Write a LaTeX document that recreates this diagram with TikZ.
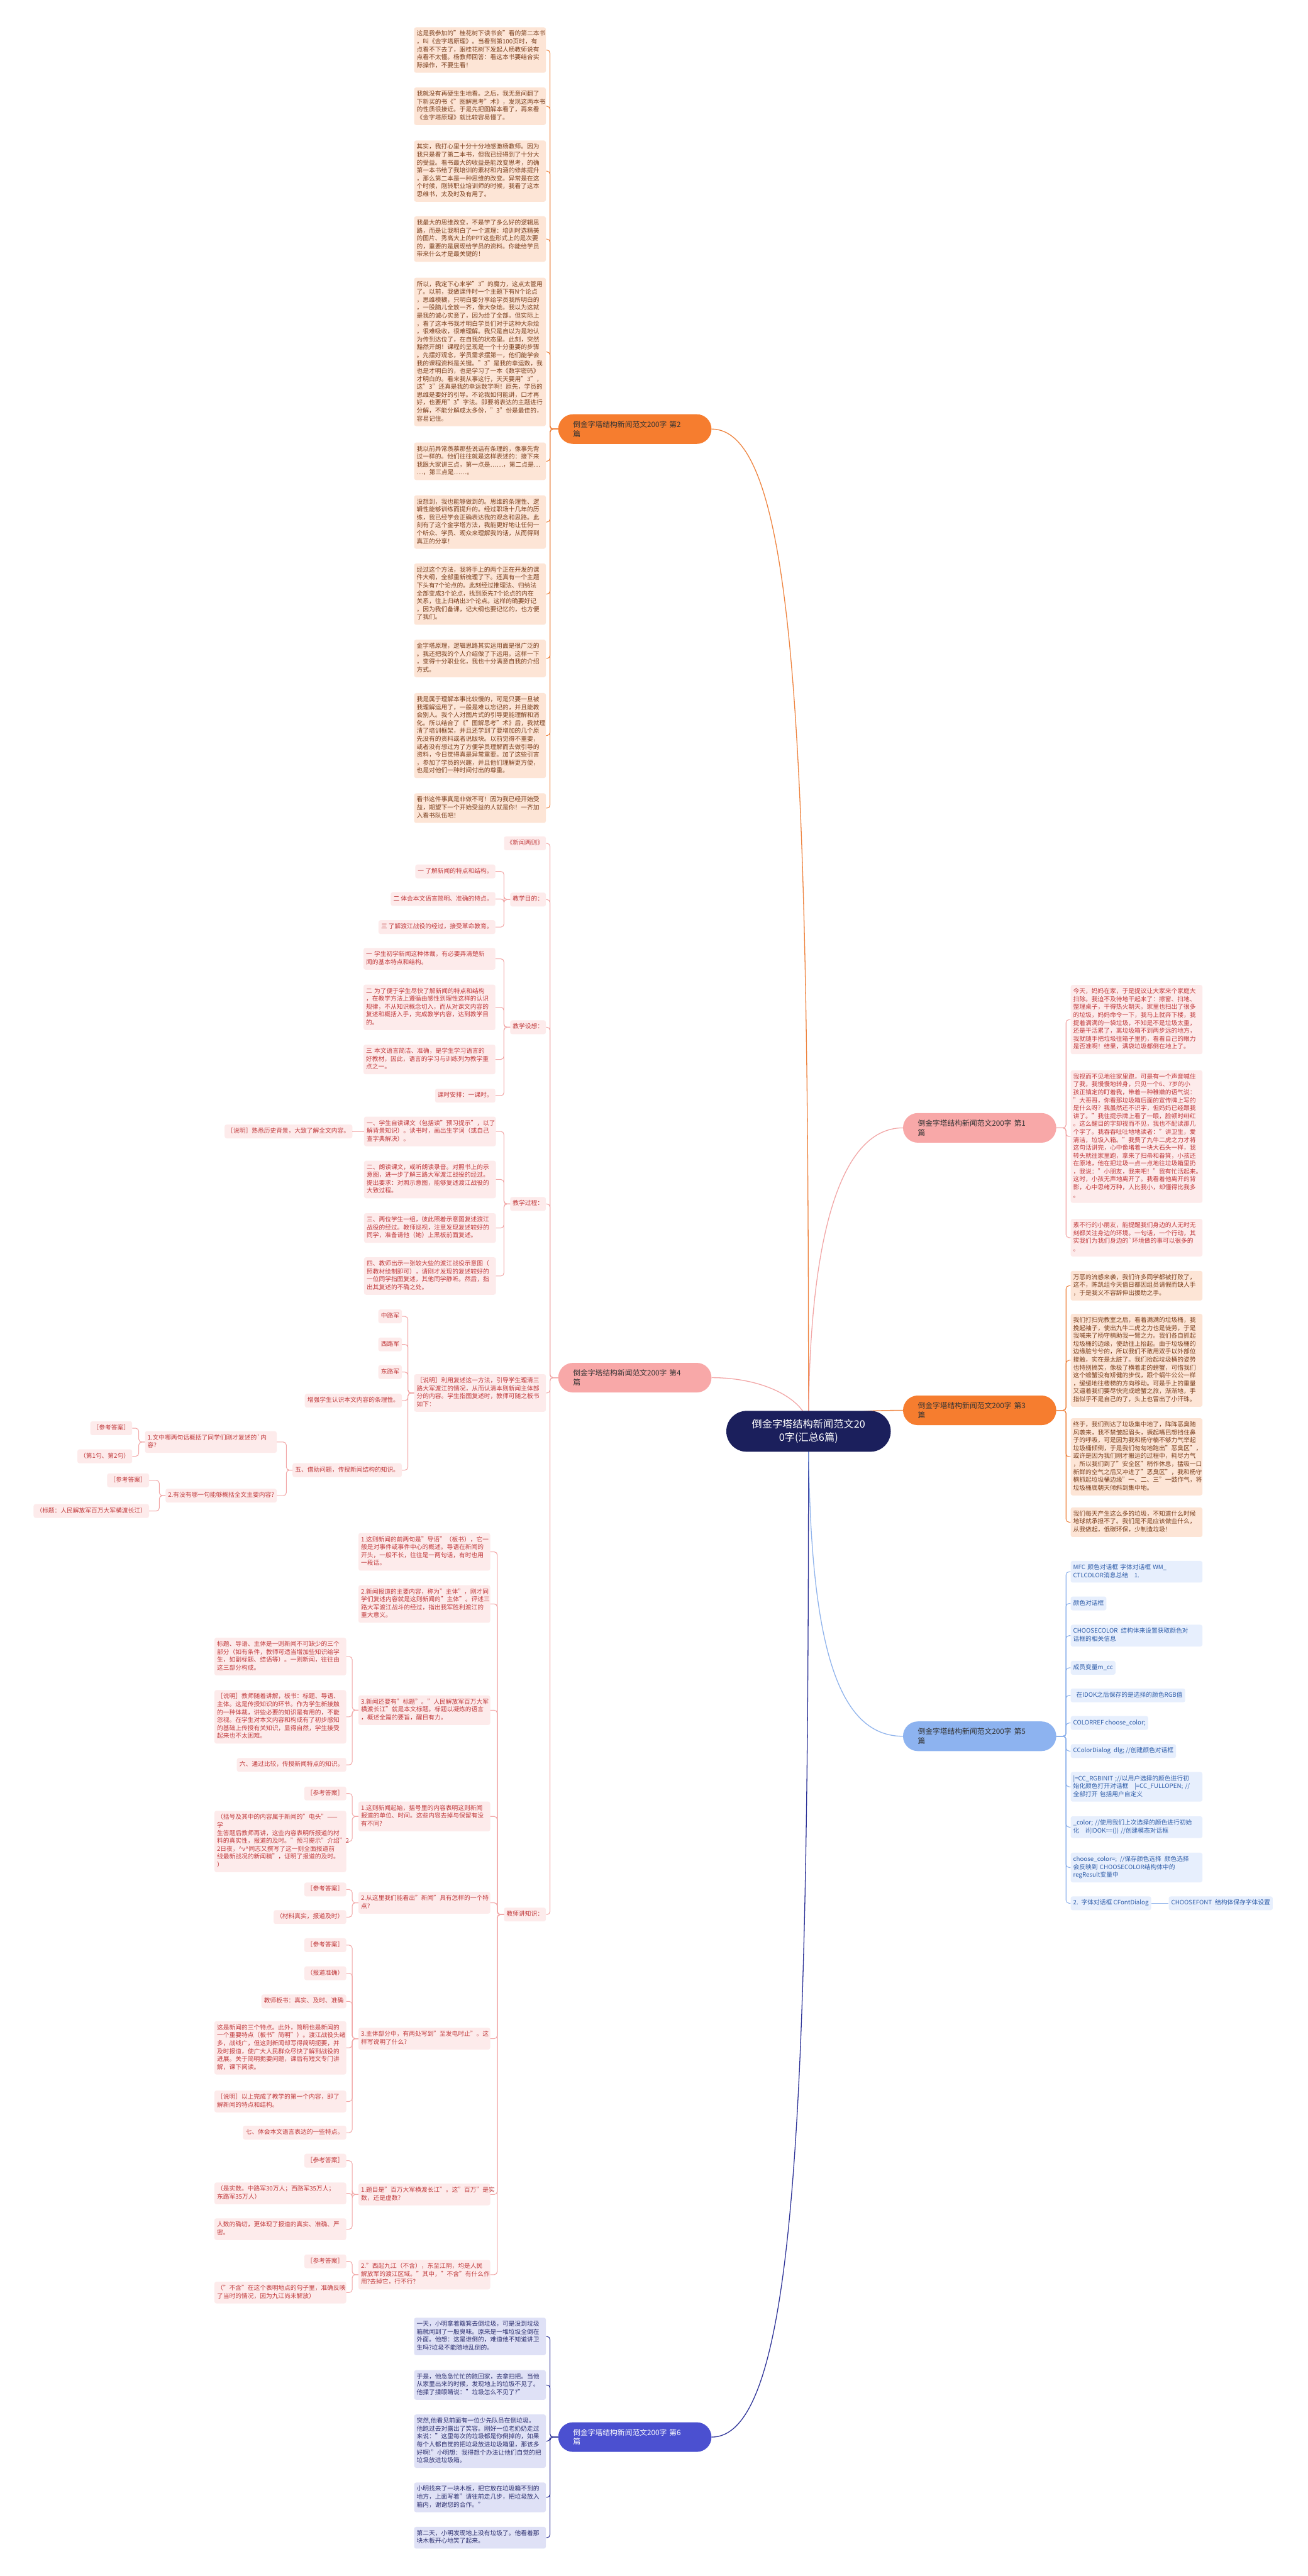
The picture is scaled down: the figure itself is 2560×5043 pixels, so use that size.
\documentclass[tikz,border=0pt]{standalone}
\usepackage{fontspec}
\setmainfont{Noto Sans CJK SC}

\definecolor{rootC}{HTML}{1B1F5C}
\definecolor{topicT}{HTML}{333333}
\definecolor{oraN}{HTML}{F67D2F}
\definecolor{oraL}{HTML}{EE8440}
\definecolor{oraF}{HTML}{FDE5D6}
\definecolor{oraT}{HTML}{7A3F1D}
\definecolor{pinN}{HTML}{F8A8A8}
\definecolor{pinL}{HTML}{F2A6A6}
\definecolor{pinF}{HTML}{FDEBEB}
\definecolor{pinT}{HTML}{C0393B}
\definecolor{bluN}{HTML}{8DB3F0}
\definecolor{bluL}{HTML}{8FB3EC}
\definecolor{bluF}{HTML}{E7EFFD}
\definecolor{bluT}{HTML}{2F5DA8}
\definecolor{indN}{HTML}{4B50D0}
\definecolor{indL}{HTML}{2E3398}
\definecolor{indF}{HTML}{DFE1F6}
\definecolor{indT}{HTML}{2B2E6E}

\begin{document}
\begin{tikzpicture}[x=1pt, y=-1pt,
    leaf/.style={rectangle, rounded corners=4pt, inner xsep=5pt, inner ysep=5.75pt,
      font=\fontsize{12}{15.5}\selectfont,
      execute at begin node=\strut, execute at end node=\strut},
    wide/.style={text width=248pt, align=left},
    topic/.style={rectangle, rounded corners=29pt, minimum height=58pt, text width=242pt,
      inner xsep=29pt, inner ysep=11pt, align=left, text=topicT,
      font=\fontsize{14.5}{18}\selectfont},
    rootnode/.style={rectangle, rounded corners=40pt, fill=rootC, text=white,
      minimum width=322pt, minimum height=80pt, align=center,
      font=\fontsize{20}{26}\selectfont},
    ora/.style={fill=oraF, text=oraT},
    pin/.style={fill=pinF, text=pinT},
    blu/.style={fill=bluF, text=bluT},
    ind/.style={fill=indF, text=indT},
    lnOra/.style={draw=oraL, line width=1.3pt, rounded corners=6pt},
    lnPin/.style={draw=pinL, line width=1.3pt, rounded corners=6pt},
    lnBlu/.style={draw=bluL, line width=1.3pt, rounded corners=6pt},
    lnInd/.style={draw=indL, line width=1.3pt, rounded corners=6pt},
    trunk/.style={line width=1.6pt}
]
\useasboundingbox (0,0) rectangle (2560,5043);
\fill[white] (0,0) rectangle (2560,5043);

% branch nodes
\node[topic, fill=oraN] (b2) at (1243,840) {倒金字塔结构新闻范文200字 第2\\篇};
\node[topic, fill=pinN] (b4) at (1243,2697) {倒金字塔结构新闻范文200字 第4\\篇};
\node[topic, fill=indN, text=white] (b6) at (1243,4771) {倒金字塔结构新闻范文200字 第6\\篇};
\node[topic, fill=pinN] (b1) at (1918,2208) {倒金字塔结构新闻范文200字 第1\\篇};
\node[topic, fill=oraN] (b3) at (1918,2761) {倒金字塔结构新闻范文200字 第3\\篇};
\node[topic, fill=bluN] (b5) at (1918,3399) {倒金字塔结构新闻范文200字 第5\\篇};

% 第2篇
\node[leaf, ora, wide, anchor=east] (a1) at (1069,98) {这是我参加的"桂花树下读书会"看的第二本书\\，叫《金字塔原理》。当看到第100页时，有\\点看不下去了，跟桂花树下发起人杨教师说有\\点看不太懂。杨教师回答：看这本书要结合实\\际操作，不要生看！};
\node[leaf, ora, wide, anchor=east] (a2) at (1069,208) {我就没有再硬生生地看。之后，我无意间翻了\\下新买的书《"图解思考"术》，发现这两本书\\的性质很接近。于是先把图解本看了，再来看\\《金字塔原理》就比较容易懂了。};
\node[leaf, ora, wide, anchor=east] (a3) at (1069,335) {其实，我打心里十分十分地感激杨教师。因为\\我只是看了第二本书，但我已经得到了十分大\\的受益。看书最大的收益是能改变思考，的确\\第一本书给了我培训的素材和内涵的修炼提升\\，那么第二本是一种思维的改变。异常是在这\\个时候，刚转职业培训师的时候，我看了这本\\思维书，太及时及有用了。};
\node[leaf, ora, wide, anchor=east] (a4) at (1069,468) {我最大的思维改变，不是学了多么好的逻辑思\\路，而是让我明白了一个道理：培训时选精美\\的图片、秀高大上的PPT这些形式上的是次要\\的，重要的是展现给学员的资料。你能给学员\\带来什么才是最关键的！};
\node[leaf, ora, wide, anchor=east] (a5) at (1069,689) {所以，我定下心来学"3"的魔力，这点太管用\\了。以前，我做课件时一个主题下有N个论点\\，思维模糊，只明白要分享给学员我所明白的\\，一股脑儿全放一齐，像大杂烩。我以为这就\\是我的诚心实意了，因为给了全部。但实际上\\，看了这本书我才明白学员们对于这种大杂烩\\，很难吸收，很难理解。我只是自以为是地认\\为传到达位了，在自我的状态里。此刻，突然\\豁然开朗！课程的呈现是一个十分重要的步骤\\。先摆好观念，学员需求摆第一，他们能学会\\我的课程资料是关键。"3"是我的幸运数，我\\也是才明白的，也是学习了一本《数字密码》\\才明白的。看来我从事这行，天天要用"3"，\\这"3"还真是我的幸运数字啊！原先，学员的\\思维是要好的引导。不论我如何能讲，口才再\\好，也要用"3"字法。即要将表达的主题进行\\分解，不能分解成太多份，"3"份是最佳的，\\容易记住。};
\node[leaf, ora, wide, anchor=east] (a6) at (1069,903) {我以前异常羡慕那些说话有条理的，像事先背\\过一样的。他们往往就是这样表述的：接下来\\我跟大家讲三点，第一点是……，第二点是…\\…，第三点是……。};
\node[leaf, ora, wide, anchor=east] (a7) at (1069,1022) {没想到，我也能够做到的。思维的条理性、逻\\辑性能够训练而提升的。经过职场十几年的历\\练，我已经学会正确表达我的观念和思路。此\\刻有了这个金字塔方法，我能更好地让任何一\\个听众、学员、观众来理解我的话，从而得到\\真正的分享！};
\node[leaf, ora, wide, anchor=east] (a8) at (1069,1163) {经过这个方法，我将手上的两个正在开发的课\\件大纲，全部重新梳理了下。还真有一个主题\\下头有7个论点的。此刻经过推理法、归纳法\\全部变成3个论点，找到原先7个论点的内在\\关系，往上归纳出3个论点。这样的确要好记\\，因为我们备课，记大纲也要记忆的，也方便\\了我们。};
\node[leaf, ora, wide, anchor=east] (a9) at (1069,1289) {金字塔原理，逻辑思路其实运用面是很广泛的\\。我还把我的个人介绍做了下运用。这样一下\\，变得十分职业化，我也十分满意自我的介绍\\方式。};
\node[leaf, ora, wide, anchor=east] (a10) at (1069,1440) {我是属于理解本事比较慢的，可是只要一旦被\\我理解运用了，一般是难以忘记的，并且能教\\会别人。我个人对图片式的引导更能理解和消\\化。所以结合了《"图解思考"术》后，我就理\\清了培训框架，并且还学到了要增加的几个原\\先没有的资料或者说版块。以前觉得不重要，\\或者没有想过为了方便学员理解而去做引导的\\资料，今日觉得真是异常重要。加了这些引言\\，参加了学员的兴趣，并且他们理解更方便，\\也是对他们一种时间付出的尊重。};
\node[leaf, ora, wide, anchor=east] (a11) at (1069,1582) {看书这件事真是非做不可！因为我已经开始受\\益，期望下一个开始受益的人就是你！一齐加\\入看书队伍吧！};
\foreach \i in {1,...,11} \draw[lnOra] (b2.west) -- ++(-16,0) |- (a\i.east);

% 第6篇
\node[leaf, ind, wide, anchor=east] (s1) at (1069,4574) {一天，小明拿着簸箕去倒垃圾，可是没到垃圾\\箱就闻到了一股臭味。原来是一堆垃圾全倒在\\外面。他想：这是谁倒的，难道他不知道讲卫\\生吗?垃圾不能随地乱倒的。};
\node[leaf, ind, wide, anchor=east] (s2) at (1069,4669) {于是，他急急忙忙的跑回家，去拿扫把。当他\\从家里出来的时候，发现地上的垃圾不见了。\\他揉了揉眼睛说："垃圾怎么不见了?"};
\node[leaf, ind, wide, anchor=east] (s3) at (1069,4779) {突然,他看见前面有一位少先队员在倒垃圾。\\他跑过去对露出了笑容。刚好一位老奶奶走过\\来说："这里每次的垃圾都是你倒掉的，如果\\每个人都自觉的把垃圾放进垃圾箱里，那该多\\好啊!"小明想：我得想个办法让他们自觉的把\\垃圾放进垃圾箱。};
\node[leaf, ind, wide, anchor=east] (s4) at (1069,4889) {小明找来了一块木板，把它放在垃圾箱不到的\\地方，上面写着"请往前走几步，把垃圾放入\\箱内，谢谢您的合作。"};
\node[leaf, ind, wide, anchor=east] (s5) at (1069,4968) {第二天，小明发现地上没有垃圾了。他看着那\\块木板开心地笑了起来。};
\foreach \i in {1,...,5} \draw[lnInd] (b6.west) -- ++(-16,0) |- (s\i.east);

% 第1篇
\node[leaf, pin, wide, anchor=west] (r1) at (2096,1996) {今天，妈妈在家，于是提议让大家来个家庭大\\扫除。我迫不及待地干起来了：擦窗、扫地、\\整理桌子，干得热火朝天。家里也扫出了很多\\的垃圾，妈妈命令一下，我马上就奔下楼，我\\提着满满的一袋垃圾，不知是不是垃圾太重，\\还是干活累了，离垃圾箱不到两步远的地方，\\我就随手把垃圾往箱子里扔，看看自己的眼力\\是否准啊！结果，满袋垃圾都倒在地上了。};
\node[leaf, pin, wide, anchor=west] (r2) at (2096,2225) {我视而不见地往家里跑，可是有一个声音喊住\\了我，我慢慢地转身，只见一个6、7岁的小\\孩正镇定的盯着我，带着一种稚嫩的语气说：\\"大哥哥，你看那垃圾箱后面的宣传牌上写的\\是什么呀？我虽然还不识字，但妈妈已经跟我\\讲了。"我往提示牌上看了一眼，脸顿时绯红\\。这么醒目的字却视而不见，我也不配读那几\\个字了。我吞吞吐吐地地读者："讲卫生，爱\\清洁，垃圾入箱。"我费了九牛二虎之力才将\\这句话讲完，心中像堵着一块大石头一样，我\\转头就往家里跑，拿来了扫帚和畚箕，小孩还\\在原地，他在把垃圾一点一点地往垃圾箱里扔\\，我说："小朋友，我来吧！"我有忙活起来。\\这时，小孩无声地离开了。我看着他离开的背\\影，心中思绪万种，人比我小，却懂得比我多\\。};
\node[leaf, pin, wide, anchor=west] (r3) at (2096,2423) {素不行的小朋友，能提醒我们身边的人无时无\\刻都关注身边的环境。一句话，一个行动，其\\实我们为我们身边的\textasciigrave 环境做的事可以很多的\\。};
\foreach \i in {1,2,3} \draw[lnPin] (b1.east) -- ++(19,0) |- (r\i.west);

% 第3篇
\node[leaf, ora, wide, anchor=west] (t1) at (2096,2517) {万恶的流感来袭，我们许多同学都被打败了，\\这不，陈凯组今天值日都因组员请假而缺人手\\，于是我义不容辞伸出援助之手。};
\node[leaf, ora, wide, anchor=west] (t2) at (2096,2663) {我们打扫完教室之后，看着满满的垃圾桶，我\\挽起袖子，使出九牛二虎之力也是徒劳，于是\\我喊来了杨守楠助我一臂之力。我们各自抓起\\垃圾桶的边缘，使劲往上抬起。由于垃圾桶的\\边缘脏兮兮的，所以我们不敢用双手以外部位\\接触，实在是太脏了。我们抬起垃圾桶的姿势\\也特别搞笑，像极了横着走的螃蟹，可惜我们\\这个螃蟹没有矫健的步伐，跟个蜗牛公公一样\\，缓缓地往楼梯的方向移动。可是手上的重量\\又逼着我们要尽快完成螃蟹之旅，渐渐地，手\\指似乎不是自己的了，头上也冒出了小汗珠。};
\node[leaf, ora, wide, anchor=west] (t3) at (2096,2852) {终于，我们到达了垃圾集中地了，阵阵恶臭随\\风袭来，我不禁皱起眉头，撅起嘴巴想挡住鼻\\子的呼吸，可是因为我和杨守楠不够力气举起\\垃圾桶倾倒，于是我们匆匆地跑出"恶臭区"，\\或许是因为我们刚才搬运的过程中，耗尽力气\\，所以我们到了"安全区"稍作休息，猛吸一口\\新鲜的空气之后又冲进了"恶臭区"，我和杨守\\楠抓起垃圾桶边缘"一、二、三"一鼓作气，将\\垃圾桶底朝天倾斜到集中地。};
\node[leaf, ora, wide, anchor=west] (t4) at (2096,2980) {我们每天产生这么多的垃圾，不知道什么时候\\地球就承担不了。我们是不是应该做些什么，\\从我做起，低碳环保，少制造垃圾！};
\foreach \i in {1,...,4} \draw[lnOra] (b3.east) -- ++(19,0) |- (t\i.west);

% 第5篇
\node[leaf, blu, wide, anchor=west] (u1) at (2096,3077) {MFC 颜色对话框 字体对话框 WM\_\\CTLCOLOR消息总结\quad 1.};
\node[leaf, blu, anchor=west] (u2) at (2096,3139) {颜色对话框};
\node[leaf, blu, wide, anchor=west] (u3) at (2096,3202) {CHOOSECOLOR\enspace 结构体来设置获取颜色对\\话框的相关信息};
\node[leaf, blu, anchor=west] (u4) at (2096,3265) {成员变量m\_cc};
\node[leaf, blu, anchor=west] (u5) at (2096,3319) {\enspace 在IDOK之后保存的是选择的颜色RGB值};
\node[leaf, blu, anchor=west] (u6) at (2096,3373) {COLORREF choose\_color;};
\node[leaf, blu, anchor=west] (u7) at (2096,3428) {CColorDialog\enspace dlg; //创建颜色对话框};
\node[leaf, blu, wide, anchor=west] (u8) at (2096,3498) {|=CC\_RGBINIT ;//以用户选择的颜色进行初\\始化颜色打开对话框\quad |=CC\_FULLOPEN; //\\全部打开 包括用户自定义};
\node[leaf, blu, wide, anchor=west] (u9) at (2096,3577) {\_color; //使用我们上次选择的颜色进行初始\\化\quad if(IDOK==()) //创建模态对话框};
\node[leaf, blu, wide, anchor=west] (u10) at (2096,3656) {choose\_color=;\enspace //保存颜色选择\enspace 颜色选择\\会反映到 CHOOSECOLOR结构体中的\\regResult变量中};
\node[leaf, blu, anchor=west] (u11) at (2096,3726) {2.\enspace 字体对话框 CFontDialog};
\node[leaf, blu, anchor=west] (u12) at (2288,3726) {CHOOSEFONT\enspace 结构体保存字体设置};
\foreach \i in {1,...,11} \draw[lnBlu] (b5.east) -- ++(19,0) |- (u\i.west);
\draw[lnBlu] (u11.east) -- (u12.west);

% 第4篇
\node[leaf, pin, anchor=east] (n1) at (1069,1651) {《新闻两则》};
\node[leaf, pin, anchor=east] (n2) at (1069,1761) {教学目的：};
\node[leaf, pin, anchor=east] (n3) at (1069,2011) {教学设想：};
\node[leaf, pin, anchor=east] (n4) at (1069,2357) {教学过程：};
\node[leaf, pin, wide, anchor=east] (n5) at (1069,2727) {［说明］利用复述这一方法，引导学生理清三\\路大军渡江的情况，从而认清本则新闻主体部\\分的内容。学生指图复述时，教师可随之板书\\如下：};
\node[leaf, pin, anchor=east] (n6) at (1069,3748) {教师讲知识：};
\foreach \i in {1,...,6} \draw[lnPin] (b4.west) -- ++(-16,0) |- (n\i.east);

\node[leaf, pin, anchor=east] (m1) at (970,1706) {一 了解新闻的特点和结构。};
\node[leaf, pin, anchor=east] (m2) at (970,1760) {二 体会本文语言简明、准确的特点。};
\node[leaf, pin, anchor=east] (m3) at (970,1815) {三 了解渡江战役的经过，接受革命教育。};
\foreach \i in {1,2,3} \draw[lnPin] (n2.west) -- ++(-12,0) |- (m\i.east);

\node[leaf, pin, wide, anchor=east] (p1) at (970,1877) {一 学生初学新闻这种体裁，有必要弄清楚新\\闻的基本特点和结构。};
\node[leaf, pin, wide, anchor=east] (p2) at (970,1972) {二 为了便于学生尽快了解新闻的特点和结构\\，在教学方法上遵循由感性到理性这样的认识\\规律，不从知识概念切入，而从对课文内容的\\复述和概括入手，完成教学内容，达到教学目\\的。};
\node[leaf, pin, wide, anchor=east] (p3) at (970,2074) {三 本文语言简洁、准确，是学生学习语言的\\好教材，因此，语言的学习与训练列为教学重\\点之一。};
\node[leaf, pin, anchor=east] (p4) at (970,2145) {课时安排：一课时。};
\foreach \i in {1,...,4} \draw[lnPin] (n3.west) -- ++(-12,0) |- (p\i.east);

\node[leaf, pin, wide, anchor=east] (q1) at (971,2215) {一、学生自读课文（包括读"预习提示"，以了\\解背景知识）。读书时，画出生字词（或自己\\查字典解决）。};
\node[leaf, pin, anchor=east] (q1a) at (690,2215) {［说明］熟悉历史背景，大致了解全文内容。};
\node[leaf, pin, wide, anchor=east] (q2) at (971,2309) {二、朗读课文，或听朗读录音。对照书上的示\\意图，进一步了解三路大军渡江战役的经过。\\提出要求：对照示意图，能够复述渡江战役的\\大致过程。};
\node[leaf, pin, wide, anchor=east] (q3) at (971,2404) {三、两位学生一组，彼此照着示意图复述渡江\\战役的经过。教师巡视，注意发现复述较好的\\同学，准备请他（她）上黑板前面复述。};
\node[leaf, pin, wide, anchor=east] (q4) at (971,2498) {四、教师出示一张较大些的渡江战役示意图（\\照教材绘制即可），请刚才发现的复述较好的\\一位同学指图复述，其他同学静听。然后，指\\出其复述的不确之处。};
\foreach \i in {1,...,4} \draw[lnPin] (n4.west) -- ++(-12,0) |- (q\i.east);
\draw[lnPin] (q1.west) -- (q1a.east);

\node[leaf, pin, anchor=east] (v1) at (787,2577) {中路军};
\node[leaf, pin, anchor=east] (v2) at (787,2632) {西路军};
\node[leaf, pin, anchor=east] (v3) at (787,2686) {东路军};
\node[leaf, pin, anchor=east] (v4) at (787,2742) {增强学生认识本文内容的条理性。};
\node[leaf, pin, anchor=east] (v5) at (787,2878) {五、借助问题，传授新闻结构的知识。};
\foreach \i in {1,...,5} \draw[lnPin] (n5.west) -- ++(-12,0) |- (v\i.east);

\node[leaf, pin, wide, anchor=east] (w1) at (542,2823) {1.文中哪两句话概括了同学们刚才复述的\textasciigrave 内\\容?};
\node[leaf, pin, anchor=east] (w2) at (542,2928) {2.有没有哪一句能够概括全文主要内容?};
\foreach \i in {1,2} \draw[lnPin] (v5.west) -- ++(-12,0) |- (w\i.east);
\node[leaf, pin, anchor=east] (w1a) at (259,2796) {［参考答案］};
\node[leaf, pin, anchor=east] (w1b) at (259,2851) {（第1句、第2句）};
\node[leaf, pin, anchor=east] (w2a) at (292,2898) {［参考答案］};
\node[leaf, pin, anchor=east] (w2b) at (292,2958) {（标题：人民解放军百万大军横渡长江）};
\foreach \c in {w1a,w1b} \draw[lnPin] (w1.west) -- ++(-12,0) |- (\c.east);
\foreach \c in {w2a,w2b} \draw[lnPin] (w2.west) -- ++(-12,0) |- (\c.east);

\node[leaf, pin, wide, anchor=east] (k1) at (960,3038) {1.这则新闻的前两句是"导语"（板书），它一\\般是对事件或事件中心的概述。导语在新闻的\\开头，一般不长，往往是一两句话，有时也用\\一段话。};
\node[leaf, pin, wide, anchor=east] (k2) at (960,3140) {2.新闻报道的主要内容，称为"主体"，刚才同\\学们复述内容就是这则新闻的"主体"。评述三\\路大军渡江战斗的经过，指出我军胜利渡江的\\重大意义。};
\node[leaf, pin, wide, anchor=east] (k3) at (960,3348) {3.新闻还要有"标题"。"人民解放军百万大军\\横渡长江"就是本文标题。标题以凝炼的语言\\，概述全篇的要旨，醒目有力。};
\node[leaf, pin, wide, anchor=east] (k4) at (960,3556) {1.这则新闻起始，括号里的内容表明这则新闻\\报道的单位、时间。这些内容去掉与保留有没\\有不同?};
\node[leaf, pin, wide, anchor=east] (k5) at (960,3725) {2.从这里我们能看出"新闻"具有怎样的一个特\\点?};
\node[leaf, pin, wide, anchor=east] (k6) at (960,3991) {3.主体部分中，有两处写到"至发电时止"。这\\样写说明了什么?};
\node[leaf, pin, wide, anchor=east] (k7) at (960,4296) {1.题目是"百万大军横渡长江"。这"百万"是实\\数，还是虚数?};
\node[leaf, pin, wide, anchor=east] (k8) at (960,4453) {2."西起九江（不含），东至江阴，均是人民\\解放军的渡江区域。"其中，"不含"有什么作\\用?去掉它，行不行?};
\foreach \i in {1,...,8} \draw[lnPin] (n6.west) -- ++(-13,0) |- (k\i.east);

\node[leaf, pin, wide, anchor=east] (k3a) at (678,3243) {标题、导语、主体是一则新闻不可缺少的三个\\部分（如有条件，教师可适当增加些知识给学\\生，如副标题、结语等）。一则新闻，往往由\\这三部分构成。};
\node[leaf, pin, wide, anchor=east] (k3b) at (678,3361) {［说明］教师随着讲解，板书：标题、导语、\\主体。这是传授知识的环节。作为学生新接触\\的一种体裁，讲些必要的知识是有用的，不能\\忽视。在学生对本文内容和构成有了初步感知\\的基础上传授有关知识，显得自然，学生接受\\起来也不太困难。};
\node[leaf, pin, anchor=east] (k3c) at (678,3455) {六、通过比较，传授新闻特点的知识。};
\foreach \c in {k3a,k3b,k3c} \draw[lnPin] (k3.west) -- ++(-12,0) |- (\c.east);

\node[leaf, pin, anchor=east] (k4a) at (678,3511) {［参考答案］};
\node[leaf, pin, wide, anchor=east] (k4b) at (678,3605) {（括号及其中的内容属于新闻的"电头"——学\\生答题后教师再讲，这些内容表明所报道的材\\料的真实性，报道的及时。"预习提示"介绍"2\\2日夜，\textasciicircum v\textasciicircum 同志又撰写了这一则全面报道前\\线最新战况的新闻稿"，证明了报道的及时。\\）};
\foreach \c in {k4a,k4b} \draw[lnPin] (k4.west) -- ++(-12,0) |- (\c.east);

\node[leaf, pin, anchor=east] (k5a) at (678,3699) {［参考答案］};
\node[leaf, pin, anchor=east] (k5b) at (678,3753) {（材料真实，报道及时）};
\foreach \c in {k5a,k5b} \draw[lnPin] (k5.west) -- ++(-12,0) |- (\c.east);

\node[leaf, pin, anchor=east] (k6a) at (678,3808) {［参考答案］};
\node[leaf, pin, anchor=east] (k6b) at (678,3863) {（报道准确）};
\node[leaf, pin, anchor=east] (k6c) at (678,3918) {教师板书：真实、及时、准确};
\node[leaf, pin, wide, anchor=east] (k6d) at (678,4009) {这是新闻的三个特点。此外，简明也是新闻的\\一个重要特点（板书"简明"）。渡江战役头绪\\多，战线广，但这则新闻却写得简明扼要，并\\及时报道，使广大人民群众尽快了解到战役的\\进展。关于简明扼要问题，课后有短文专门讲\\解，课下阅读。};
\node[leaf, pin, wide, anchor=east] (k6e) at (678,4114) {［说明］以上完成了教学的第一个内容，即了\\解新闻的特点和结构。};
\node[leaf, pin, anchor=east] (k6f) at (678,4175) {七、体会本文语言表达的一些特点。};
\foreach \c in {k6a,k6b,k6c,k6d,k6e,k6f} \draw[lnPin] (k6.west) -- ++(-12,0) |- (\c.east);

\node[leaf, pin, anchor=east] (k7a) at (678,4230) {［参考答案］};
\node[leaf, pin, wide, anchor=east] (k7b) at (678,4294) {（是实数。中路军30万人；西路军35万人；\\东路军35万人）};
\node[leaf, pin, wide, anchor=east] (k7c) at (678,4364) {人数的确切，更体现了报道的真实、准确、严\\密。};
\foreach \c in {k7a,k7b,k7c} \draw[lnPin] (k7.west) -- ++(-12,0) |- (\c.east);

\node[leaf, pin, anchor=east] (k8a) at (678,4427) {［参考答案］};
\node[leaf, pin, wide, anchor=east] (k8b) at (678,4488) {（"不含"在这个表明地点的句子里，准确反映\\了当时的情况，因为九江尚未解放）};
\foreach \c in {k8a,k8b} \draw[lnPin] (k8.west) -- ++(-12,0) |- (\c.east);

% root and main curves
\coordinate (rc) at (1583,2795);
\draw[trunk, draw=oraL] (b2.east) .. controls +(170,0) and +(0,-1300) .. (rc);
\draw[trunk, draw=pinL] (b4.east) .. controls +(110,0) and +(0,-50) .. (rc);
\draw[trunk, draw=indL] (b6.east) .. controls +(170,0) and +(0,1300) .. (rc);
\draw[trunk, draw=pinL] (rc) .. controls +(0,-350) and +(-130,0) .. (b1.west);
\draw[trunk, draw=oraL] (rc) .. controls +(80,-30) and +(-100,0) .. (b3.west);
\draw[trunk, draw=bluL] (rc) .. controls +(0,420) and +(-130,0) .. (b5.west);
\node[rootnode] (root) at (1583,2802) {倒金字塔结构新闻范文20\\0字(汇总6篇)};
\end{tikzpicture}
\end{document}
